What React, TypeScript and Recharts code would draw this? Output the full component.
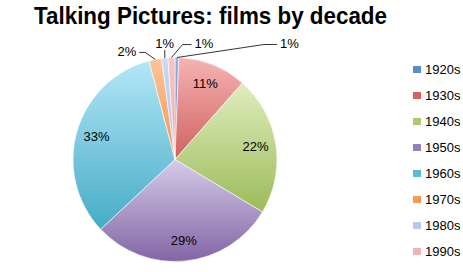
import { PieChart, Pie, Cell, Legend } from "recharts";

const decades = ["1920s", "1930s", "1940s", "1950s", "1960s", "1970s", "1980s", "1990s"];
const shares = [0.6, 10.9, 22.1, 29.4, 32.9, 2.0, 1.0, 1.1];

// gradient stops per slice (top -> bottom), legend swatch colour
const topColors = ["#8fb4e6", "#f6b3b2", "#dfedbf", "#d6cbe8", "#b3e7f7", "#fcc59a", "#c9daf3", "#f6c6c6"];
const bottomColors = ["#4f81bd", "#cf6260", "#9cbb58", "#8265a6", "#46abc6", "#f7934a", "#a9c0e6", "#e9a8a8"];
const legendColors = ["#5b8cca", "#d9625f", "#acc96f", "#9580b8", "#5bbbd2", "#f79a52", "#b4c9ec", "#efb4b4"];

// leader lines for the thin slices: elbow offset from the rim, then a short run
const leaders: Record<number, { ex: number; ey: number; run: number }> = {
  0: { ex: 87, ey: -13, run: 13 },
  5: { ex: -10, ey: -7, run: -6 },
  6: { ex: 0, ey: -8, run: 0 },
  7: { ex: 11, ey: -13, run: 9 },
};

const data = decades.map((d, i) => ({ name: d, value: shares[i] }));
const RAD = Math.PI / 180;
const FONT = "'Liberation Sans', Arial, sans-serif";

function renderLabel(props: any) {
  const { cx, cy, midAngle, outerRadius, percent, index } = props;
  const txt = `${Math.round(percent * 100)}%`;
  const cos = Math.cos(-midAngle * RAD);
  const sin = Math.sin(-midAngle * RAD);
  const l = leaders[index];
  if (!l) {
    const r = outerRadius * 0.8;
    return (
      <text x={cx + r * cos} y={cy + r * sin} textAnchor="middle" dominantBaseline="central"
        fontSize={13} fontFamily={FONT} fill="#000">
        {txt}
      </text>
    );
  }
  const x0 = cx + outerRadius * cos;
  const y0 = cy + outerRadius * sin;
  const x1 = x0 + l.ex;
  const y1 = y0 + l.ey;
  const x2 = x1 + l.run;
  let tx = x2;
  let anchor: "start" | "end" | "middle" = "middle";
  let ty = y1 - 1;
  if (l.run > 0) { tx = x2 + 3; anchor = "start"; }
  else if (l.run < 0) { tx = x2 - 3; anchor = "end"; }
  else { ty = y1 - 7; }
  return (
    <g>
      <polyline points={`${x0},${y0} ${x1},${y1} ${x2},${y1}`} fill="none" stroke="#000" strokeWidth={0.8} />
      <text x={tx} y={ty} textAnchor={anchor} dominantBaseline="central"
        fontSize={13} fontFamily={FONT} fill="#000">
        {txt}
      </text>
    </g>
  );
}

function renderLegend() {
  return (
    <div style={{ fontFamily: FONT, fontSize: 13, color: "#000" }}>
      {decades.map((d, i) => (
        <div key={d} style={{ display: "flex", alignItems: "center", height: 26.1 }}>
          <span style={{ width: 8, height: 7, background: legendColors[i], marginRight: 4, display: "inline-block" }} />
          <span>{d}</span>
        </div>
      ))}
    </div>
  );
}

export default function App() {
  return (
    <div style={{ position: "absolute", left: 0, top: 0, width: 463, height: 272, background: "#fff" }}>
      <svg width={463} height={34} style={{ position: "absolute", left: 0, top: 0 }}>
        <text x={34} y={24} fontSize={24} fontWeight="bold" fontFamily={FONT} fill="#000"
          textLength={353} lengthAdjust="spacingAndGlyphs">
          Talking Pictures: films by decade
        </text>
      </svg>
      <PieChart width={463} height={272} margin={{ top: 0, right: 0, bottom: 0, left: 0 }}
        style={{ position: "absolute", left: 0, top: 0 }}>
        <defs>
          {decades.map((d, i) => (
            <linearGradient key={d} id={`g${i}`} x1="0" y1="0" x2="0" y2="1">
              <stop offset="0%" stopColor={topColors[i]} />
              <stop offset="100%" stopColor={bottomColors[i]} />
            </linearGradient>
          ))}
        </defs>
        <Pie
          data={data}
          dataKey="value"
          nameKey="name"
          cx={175}
          cy={159.5}
          outerRadius={102}
          startAngle={90}
          endAngle={-270}
          stroke="#fff"
          strokeWidth={0.6}
          label={renderLabel}
          labelLine={false}
          isAnimationActive={false}
        >
          {data.map((d, i) => (
            <Cell key={d.name} fill={`url(#g${i})`} />
          ))}
        </Pie>
        <Legend content={renderLegend} wrapperStyle={{ position: "absolute", left: 413, top: 56, width: 60 }} />
      </PieChart>
    </div>
  );
}
